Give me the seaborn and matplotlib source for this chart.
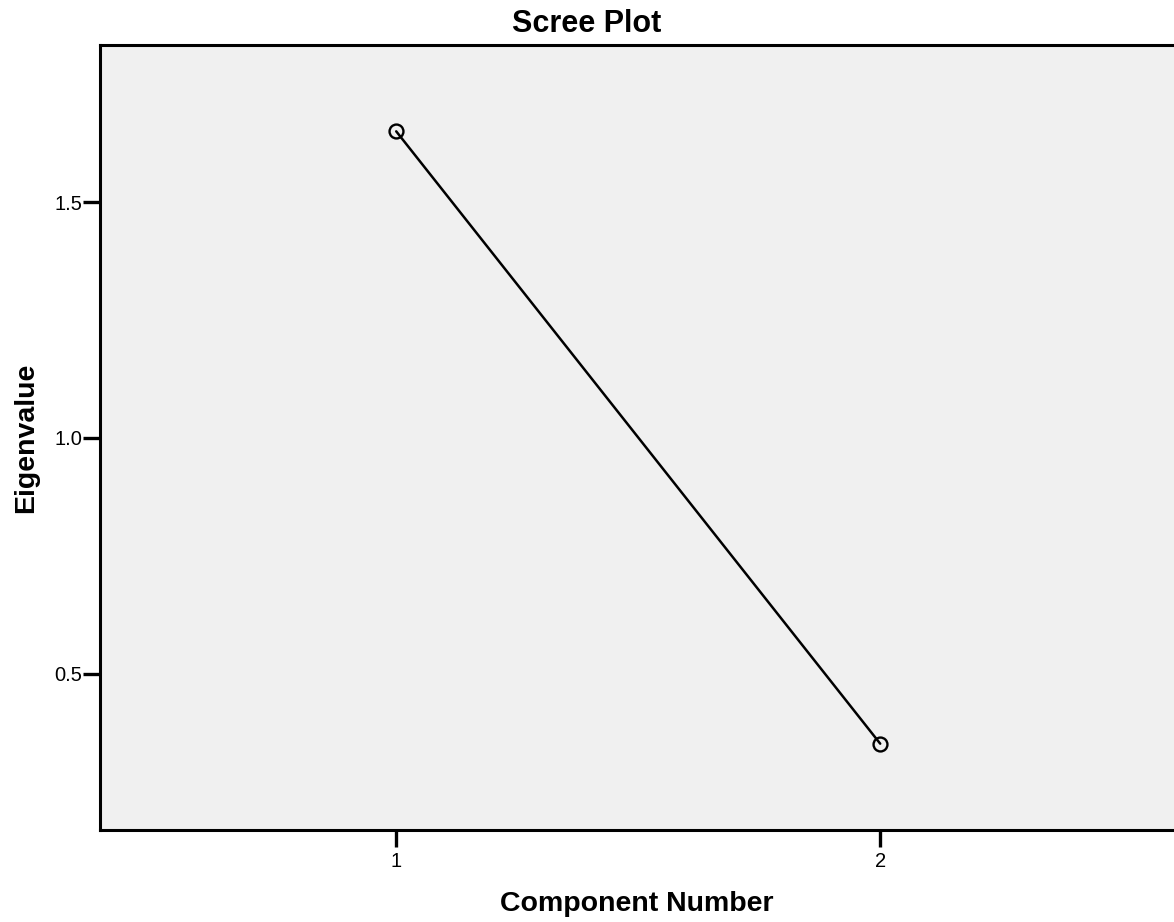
import matplotlib
matplotlib.use("Agg")
import matplotlib.pyplot as plt
import seaborn as sns
import pandas as pd

component = [1, 2]
eigenvalue = [1.65, 0.352]

df = pd.DataFrame({'Component Number': component, 'Eigenvalue': eigenvalue})

sns.set_style('ticks')
plt.rcParams['font.family'] = ['Liberation Sans', 'DejaVu Sans']
plt.rcParams['text.color'] = 'black'
plt.rcParams['axes.labelcolor'] = 'black'

fig = plt.figure(figsize=(11.74, 9.22), dpi=100)
ax = fig.add_axes([100 / 1174, 92 / 922, 1 - 100 / 1174, 785 / 922])
ax.set_facecolor('#f0f0f0')

sns.lineplot(data=df, x='Component Number', y='Eigenvalue', ax=ax,
             color='black', linewidth=1.8, marker='o', markersize=10,
             markerfacecolor='none', markeredgecolor='black', markeredgewidth=1.7)

ax.set_xlim(0.388, 2.607)
ax.set_ylim(0.169, 1.833)
ax.set_xticks(component)
ax.set_xticklabels(['1', '2'])
ax.set_yticks([0.5, 1.0, 1.5])
ax.set_yticklabels(['0.5', '1.0', '1.5'])
ax.tick_params(direction='out', length=12, width=2.4, labelsize=14.5, colors='black')
ax.tick_params(axis='x', pad=4)
ax.tick_params(axis='y', pad=1)

for s in ['left', 'bottom', 'top']:
    ax.spines[s].set_linewidth(2.2)
    ax.spines[s].set_color('black')
ax.spines['right'].set_visible(False)

# title is centred on the whole picture, not on the axes
fig.suptitle('Scree Plot', x=0.5, y=(922 - 32) / 922, va='baseline',
             fontsize=22, fontweight='bold', color='black')
ax.set_xlabel('Component Number', fontsize=20.5, fontweight='bold')
ax.set_ylabel('Eigenvalue', fontsize=20.5, fontweight='bold')
ax.xaxis.set_label_coords(0.5, -0.078)
ax.yaxis.set_label_coords(-0.057, 0.5)

fig.savefig('out.png', dpi=100)
